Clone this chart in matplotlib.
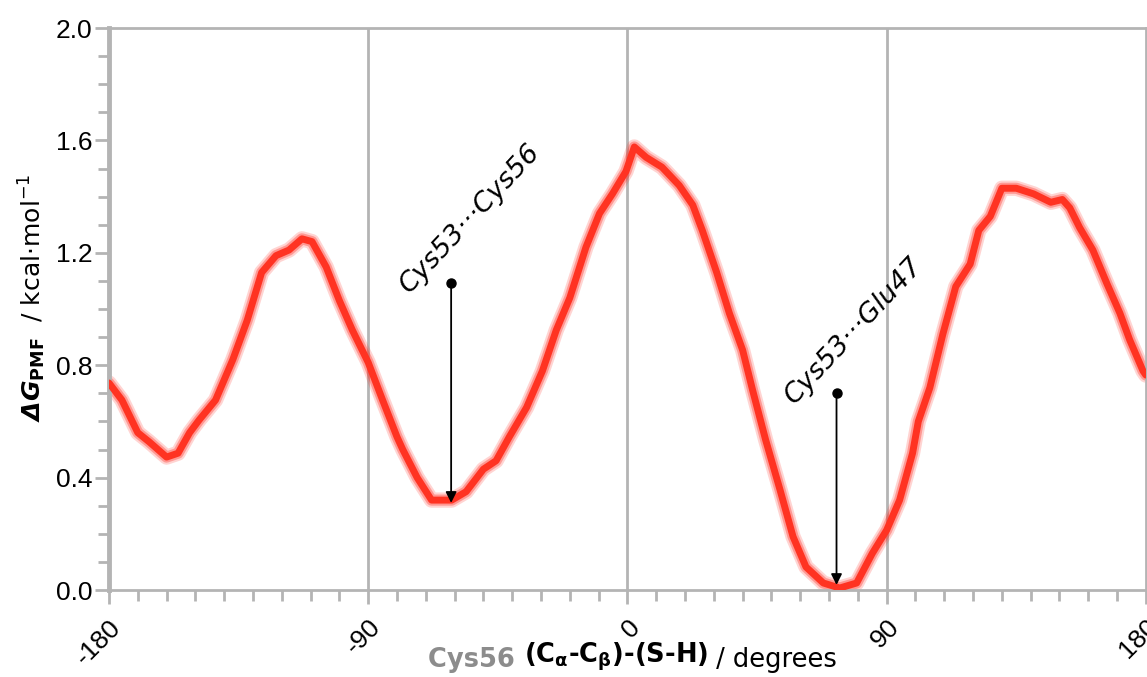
import matplotlib.pyplot as plt
import numpy as np

# dihedral angle (degrees) and PMF (kcal/mol)
angle = [-180, -175.5, -170, -166, -160, -156, -152, -148.7, -143, -137, -132, -127,
         -122, -117.5, -113, -109.5, -104.6, -100, -95.5, -90, -85, -80, -78, -73,
         -68, -61, -56, -50, -45.6, -41, -35, -29.5, -24.7, -20, -14.4, -9.7, -5.2,
         -0.5, 2.4, 6.5, 12, 18, 22.7, 26, 31, 35.4, 40, 43.5, 48, 53, 57.5, 62, 68,
         73.7, 79.6, 85, 90, 94.5, 99, 101, 105, 109.5, 114, 119, 122, 126, 130, 135,
         141, 147, 151, 153.6, 157, 161.6, 166.5, 171, 174.4, 179, 180]
dG = [0.737, 0.676, 0.56, 0.527, 0.473, 0.487, 0.56, 0.605, 0.676, 0.82, 0.96, 1.13,
      1.19, 1.21, 1.25, 1.24, 1.15, 1.03, 0.925, 0.81, 0.676, 0.545, 0.5, 0.40,
      0.32, 0.32, 0.35, 0.43, 0.46, 0.545, 0.65, 0.78, 0.925, 1.04, 1.22, 1.34, 1.41,
      1.49, 1.577, 1.54, 1.505, 1.44, 1.37, 1.28, 1.13, 0.985, 0.854, 0.71, 0.534,
      0.356, 0.19, 0.082, 0.025, 0.007, 0.025, 0.13, 0.213, 0.32, 0.487, 0.6, 0.72,
      0.91, 1.08, 1.16, 1.28, 1.33, 1.43, 1.43, 1.41, 1.38, 1.39, 1.36, 1.29, 1.21,
      1.09, 0.985, 0.89, 0.78, 0.765]

# annotations: label, x, dot height, arrow tip height
ann_labels = ['Cys53\u00b7\u00b7\u00b7Cys56', 'Cys53\u00b7\u00b7\u00b7Glu47']
ann_x = [-61.2, 72.6]
ann_top = [1.093, 0.70]
ann_tip = [0.31, 0.018]

xticks = [-180, -90, 0, 90, 180]
yticks = [0.0, 0.4, 0.8, 1.2, 1.6, 2.0]

grey = '#b4b4b4'

fig = plt.figure(figsize=(11.47, 6.77), dpi=100)
ax = fig.add_axes([0.095, 0.1285, 0.904, 0.83])

# grid lines at -90, 0, 90
for gx in xticks[1:-1]:
    ax.axvline(gx, color=grey, lw=2, zorder=1)

# the PMF curve with a soft halo
ax.plot(angle, dG, color='#ff2a1f', lw=11, alpha=0.2, solid_capstyle='round', zorder=2)
ax.plot(angle, dG, color='#ff2a1f', lw=8, alpha=0.35, solid_capstyle='round', zorder=2)
ax.plot(angle, dG, color='#ff3322', lw=5, solid_capstyle='round', zorder=3)

for lab, x, top, tip in zip(ann_labels, ann_x, ann_top, ann_tip):
    ax.annotate('', xy=(x, tip), xytext=(x, top),
                arrowprops=dict(arrowstyle='-|>', color='black', lw=1.3,
                                mutation_scale=16, shrinkA=0, shrinkB=0),
                zorder=5)
    ax.plot(x, top, 'o', color='black', ms=6.5, zorder=5)
    ax.annotate(lab, xy=(x, top), xytext=(-27, -11), textcoords='offset points',
                rotation=47, rotation_mode='anchor', ha='left', va='bottom',
                fontsize=19.5, fontstyle='italic', zorder=5)

ax.set_xlim(-180, 180)
ax.set_ylim(0, 2.0)
ax.set_xticks(xticks)
ax.set_xticks(np.arange(-180, 181, 10), minor=True)
ax.set_yticks(yticks)
ax.set_yticks(np.arange(0, 2.01, 0.1), minor=True)
ax.set_yticklabels(['%.1f' % v for v in yticks], fontsize=19, family='Liberation Sans')
ax.set_xticklabels([str(v) for v in xticks], fontsize=19, family='Liberation Sans',
                   rotation=45, ha='right', rotation_mode='anchor')

ax.tick_params(which='both', direction='out', color=grey, width=2)
ax.tick_params(which='major', length=10, pad=2)
ax.tick_params(which='minor', length=8)
ax.tick_params(axis='x', which='major', pad=8)

for s in ['top', 'right', 'bottom']:
    ax.spines[s].set_color(grey)
    ax.spines[s].set_linewidth(2)
ax.spines['left'].set_color(grey)
ax.spines['left'].set_linewidth(3.5)

# y label
fig.text(0.028, 0.56, r'$\mathbfit{\Delta G}_{\mathbf{PMF}}$  / kcal$\cdot$mol$^{\mathregular{-1}}$',
         rotation=90, ha='center', va='center', fontsize=18)

# x label built from pieces (grey residue name, bold atoms, plain units)
t1 = fig.text(0.373, 0.015, 'Cys56 ', color='#8c8c8c', fontweight='bold',
              fontsize=18.5, ha='left', va='baseline')
t2 = ax.annotate(r'(C$_\mathbf{\alpha}$-C$_\mathbf{\beta}$)-(S-H)', xy=(1, 0),
                 xycoords=t1, va='bottom', ha='left', fontweight='bold', fontsize=18.5)
ax.annotate(' / degrees', xy=(1, 0), xycoords=t2, va='bottom', ha='left', fontsize=18.5)

plt.savefig('out.png', dpi=100)
